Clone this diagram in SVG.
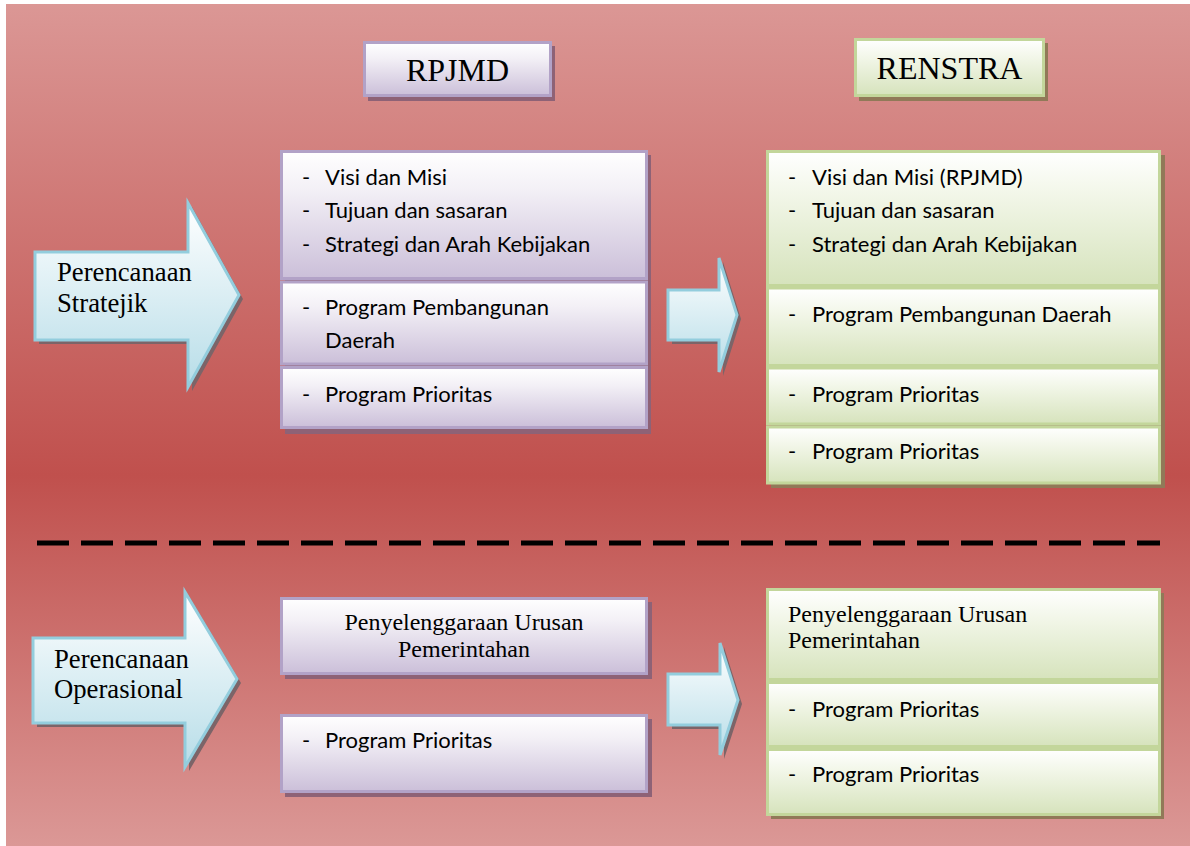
<svg xmlns="http://www.w3.org/2000/svg" width="1190" height="846" viewBox="0 0 1190 846">
  <defs>
    <linearGradient id="bg" x1="0" y1="0" x2="0" y2="1">
      <stop offset="0" stop-color="#db9795"/>
      <stop offset="0.56" stop-color="#c0504d"/>
      <stop offset="1" stop-color="#db9896"/>
    </linearGradient>
    <linearGradient id="gPurple" x1="0" y1="0" x2="0" y2="1">
      <stop offset="0" stop-color="#ffffff"/>
      <stop offset="0.3" stop-color="#f3f0f6"/>
      <stop offset="1" stop-color="#cbbfd9"/>
    </linearGradient>
    <linearGradient id="gGreen" x1="0" y1="0" x2="0" y2="1">
      <stop offset="0" stop-color="#ffffff"/>
      <stop offset="0.3" stop-color="#f3f7ea"/>
      <stop offset="1" stop-color="#d6e3bc"/>
    </linearGradient>
    <linearGradient id="gBlue" x1="0" y1="0" x2="0" y2="1">
      <stop offset="0" stop-color="#ffffff"/>
      <stop offset="1" stop-color="#b7dde8"/>
    </linearGradient>
    <style>
      .p { fill: url(#gPurple); stroke: #b2a2c7; stroke-width: 3; }
      .g { fill: url(#gGreen); stroke: #c3d69b; stroke-width: 3; }
      .ps { fill: #8e6276; }
      .gs { fill: #917958; }
      .arrow { fill: url(#gBlue); stroke: #93cddd; stroke-width: 3; stroke-linejoin: miter; }
      .as { fill: #7c6468; }
      .cal { font-family: Lato, "Open Sans", "DejaVu Sans", sans-serif; font-size: 22px; fill: #000; }
      .tms { font-family: "Liberation Serif", "Times New Roman", serif; fill: #000; }
      .t32 { font-size: 32px; }
      .t27 { font-size: 26.7px; }
      .t24 { font-size: 24px; }
    </style>
  </defs>

  <rect x="6" y="4" width="1184" height="842" fill="url(#bg)"/>

  <!-- separator -->
  <line x1="37" y1="543" x2="1160" y2="543" stroke="#000" stroke-width="5" stroke-dasharray="32 12"/>

  <!-- RPJMD header -->
  <g id="rpjmd">
    <rect class="ps" x="368" y="46" width="187" height="55"/>
    <rect class="p" x="364.5" y="42.5" width="186" height="53"/>
    <text class="tms t32" x="457.5" y="81" text-anchor="middle">RPJMD</text>
  </g>

  <!-- RENSTRA header -->
  <g id="renstra">
    <rect class="gs" x="859" y="43" width="189" height="58"/>
    <rect class="g" x="855.5" y="39.5" width="188" height="56"/>
    <text class="tms t32" x="949.5" y="79" text-anchor="middle">RENSTRA</text>
  </g>

  <!-- Perencanaan Stratejik arrow -->
  <g id="arrow-stratejik">
    <path class="as" d="M39,256 H192 V207 L243,299 L192,391 V344 H39 Z"/>
    <path class="arrow" d="M35,252 H188 V203 L239,295 L188,387 V340 H35 Z"/>
    <text class="tms t27" x="57" y="281">Perencanaan</text>
    <text class="tms t27" x="57" y="312">Stratejik</text>
  </g>

  <!-- Perencanaan Operasional arrow -->
  <g id="arrow-operasional">
    <path class="as" d="M37,642 H189 V596 L241,683 L189,771 V727 H37 Z"/>
    <path class="arrow" d="M33,638 H185 V592 L237,679 L185,767 V723 H33 Z"/>
    <text class="tms t27" x="54" y="668">Perencanaan</text>
    <text class="tms t27" x="54" y="698">Operasional</text>
  </g>

  <!-- RPJMD strategic box -->
  <g id="rpjmd-stratejik">
    <rect class="ps" x="285" y="155" width="366" height="279"/>
    <rect class="p" x="281.5" y="151.5" width="365" height="127"/>
    <rect class="p" x="281.5" y="282" width="365" height="82"/>
    <rect class="p" x="281.5" y="367.5" width="365" height="60"/>
    <text class="cal" x="302" y="185">-</text><text class="cal" x="325" y="185">Visi dan Misi</text>
    <text class="cal" x="302" y="218">-</text><text class="cal" x="325" y="218">Tujuan dan sasaran</text>
    <text class="cal" x="302" y="252">-</text><text class="cal" x="325" y="252">Strategi dan Arah Kebijakan</text>
    <text class="cal" x="302" y="315">-</text><text class="cal" x="325" y="315">Program Pembangunan</text>
    <text class="cal" x="325" y="348">Daerah</text>
    <text class="cal" x="302" y="402">-</text><text class="cal" x="325" y="402">Program Prioritas</text>
  </g>

  <!-- RENSTRA strategic box -->
  <g id="renstra-stratejik">
    <rect class="gs" x="771" y="155" width="394" height="333"/>
    <rect class="g" x="767.5" y="151.5" width="392" height="134"/>
    <rect class="g" x="767.5" y="288" width="392" height="77.5"/>
    <rect class="g" x="767.5" y="368" width="392" height="56"/>
    <rect class="g" x="767.5" y="427" width="392" height="56"/>
    <text class="cal" x="788" y="185">-</text><text class="cal" x="812" y="185">Visi dan Misi (RPJMD)</text>
    <text class="cal" x="788" y="218">-</text><text class="cal" x="812" y="218">Tujuan dan sasaran</text>
    <text class="cal" x="788" y="252">-</text><text class="cal" x="812" y="252">Strategi dan Arah Kebijakan</text>
    <text class="cal" x="788" y="322">-</text><text class="cal" x="812" y="322">Program Pembangunan Daerah</text>
    <text class="cal" x="788" y="402">-</text><text class="cal" x="812" y="402">Program Prioritas</text>
    <text class="cal" x="788" y="459">-</text><text class="cal" x="812" y="459">Program Prioritas</text>
  </g>

  <!-- RPJMD operational boxes -->
  <g id="rpjmd-urusan">
    <rect class="ps" x="285" y="602" width="367" height="77"/>
    <rect class="p" x="281.5" y="598.5" width="365" height="75"/>
    <text class="tms t24" x="464" y="630" text-anchor="middle">Penyelenggaraan Urusan</text>
    <text class="tms t24" x="464" y="657" text-anchor="middle">Pemerintahan</text>
  </g>
  <g id="rpjmd-prioritas">
    <rect class="ps" x="285" y="719" width="367" height="78"/>
    <rect class="p" x="281.5" y="715.5" width="365" height="76"/>
    <text class="cal" x="302" y="748">-</text><text class="cal" x="325" y="748">Program Prioritas</text>
  </g>

  <!-- RENSTRA operational box -->
  <g id="renstra-operasional">
    <rect class="gs" x="771" y="593" width="393" height="226"/>
    <rect class="g" x="767.5" y="589.5" width="392" height="90"/>
    <rect class="g" x="767.5" y="682.5" width="392" height="64"/>
    <rect class="g" x="767.5" y="749.5" width="392" height="65"/>
    <text class="tms t24" x="788" y="622">Penyelenggaraan Urusan</text>
    <text class="tms t24" x="788" y="648">Pemerintahan</text>
    <text class="cal" x="788" y="717">-</text><text class="cal" x="812" y="717">Program Prioritas</text>
    <text class="cal" x="788" y="782">-</text><text class="cal" x="812" y="782">Program Prioritas</text>
  </g>

  <!-- connectors -->
  <g id="connectors">
    <path class="as" d="M672,294 H723 V262 L741,319 L723,376 V344 H672 Z"/>
    <path class="arrow" d="M668,290 H719 V258 L737,315 L719,372 V340 H668 Z"/>
    <path class="as" d="M672,678 H724 V647 L742,704 L724,759 V729 H672 Z"/>
    <path class="arrow" d="M668,674 H720 V643 L738,700 L720,755 V725 H668 Z"/>
  </g>
</svg>
